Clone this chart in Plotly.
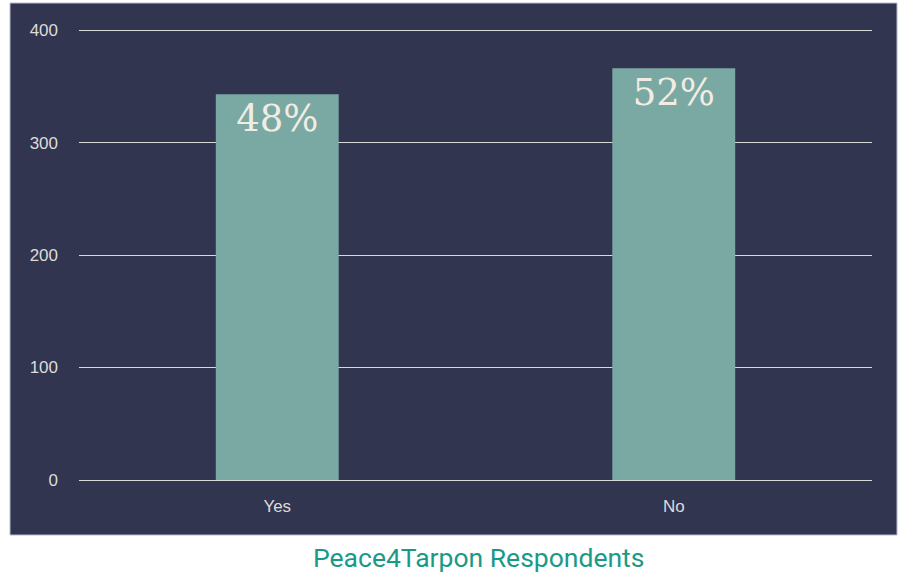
import plotly.graph_objects as go

categories = ["Yes", "No"]
counts = [343, 366]
pct_labels = ["48%", "52%"]
y_ticks = [0, 100, 200, 300, 400]

PANEL = "#31354f"
BAR = "#7aa8a3"
GRID = "#d9d9d9"

# plot area in pixels: x 79..872, y 29..480
W, H = 898, 572
L, R, T, B = 79, 26, 29, 92
pw, ph = W - L - R, H - T - B

fig = go.Figure(go.Bar(
    x=categories, y=counts, text=pct_labels,
    textposition="inside", insidetextanchor="end",
    textfont=dict(family="DejaVu Serif", size=37, color="#f2ede2"),
    marker=dict(color=BAR, line=dict(width=0)),
    constraintext="none", cliponaxis=False,
    hoverinfo="skip",
))

fig.update_layout(
    width=W, height=H,
    margin=dict(l=L, r=R, t=T, b=B, autoexpand=False),
    paper_bgcolor="white", plot_bgcolor="rgba(0,0,0,0)",
    bargap=0.69, showlegend=False,
    shapes=[dict(
        type="rect", xref="paper", yref="paper", layer="below",
        x0=(10 - L) / pw, x1=(897 - L) / pw,
        y0=(H - B - 535) / ph, y1=(H - B - 3) / ph,
        fillcolor=PANEL, line=dict(color="#b9bdd0", width=1),
    )],
    annotations=[dict(
        text="Peace4Tarpon Respondents", xref="paper", yref="paper",
        x=(478 - L) / pw, y=(H - B - 557) / ph, xanchor="center", yanchor="middle",
        showarrow=False, font=dict(family="Roboto", size=26.5, color="#1a9a86"),
    )],
)

fig.update_yaxes(
    range=[0, 401], tickvals=y_ticks, showgrid=True, gridcolor=GRID, gridwidth=1.2,
    zeroline=True, zerolinecolor=GRID, zerolinewidth=1.2, showline=False,
    ticks="", ticklabelstandoff=20,
    tickfont=dict(family="Liberation Sans", size=17, color="#dcdcdc"),
)
fig.update_xaxes(
    showgrid=False, showline=False, ticks="", ticklabelstandoff=14,
    tickfont=dict(family="Liberation Sans", size=17, color="#dcdcdc"),
)

fig.write_html("out.html", config={"displayModeBar": False})

# remove default page margin so the figure sits at the window's top-left corner
with open("out.html", encoding="utf-8") as f:
    html = f.read()
html = html.replace("<body>", '<body style="margin:0;padding:0;overflow:hidden">', 1)
with open("out.html", "w", encoding="utf-8") as f:
    f.write(html)
